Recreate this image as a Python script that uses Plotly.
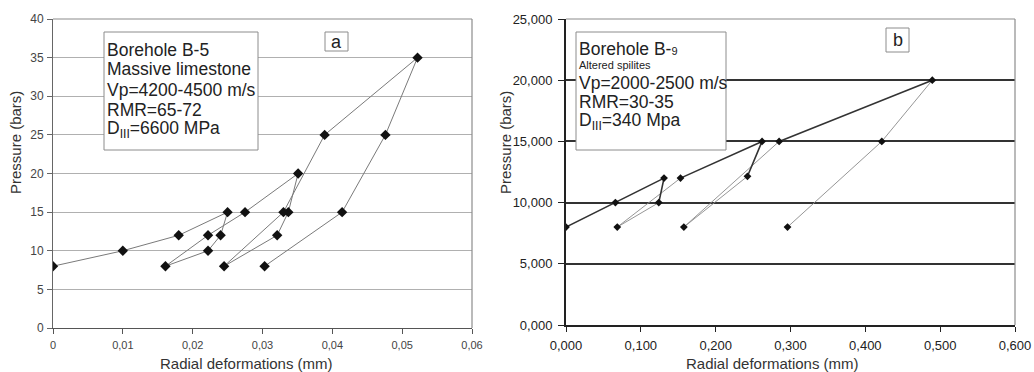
import plotly.graph_objects as go

W, H = 1034, 372

# ---- Chart a (Borehole B-5) ----
a_x = [0.0, 0.010, 0.018, 0.025, 0.0240, 0.0222, 0.0161, 0.0222, 0.0275, 0.0351,
       0.0337, 0.0321, 0.0245, 0.0330, 0.0389, 0.0522, 0.0476, 0.0414, 0.0303]
a_y = [8, 10, 12, 15, 12, 10, 8, 12, 15, 20, 15, 12, 8, 15, 25, 35, 25, 15, 8]
a_xticks = [0, 0.01, 0.02, 0.03, 0.04, 0.05, 0.06]
a_xticktext = ["0", "0,01", "0,02", "0,03", "0,04", "0,05", "0,06"]
a_yticks = [0, 5, 10, 15, 20, 25, 30, 35, 40]
a_yticktext = ["0", "5", "10", "15", "20", "25", "30", "35", "40"]

# ---- Chart b (Borehole B-9) ----
b_x = [0.0, 0.066, 0.131, 0.124, 0.0685, 0.153, 0.262, 0.2425, 0.1575, 0.2848,
       0.4895, 0.422, 0.296]
b_y = [8000, 10000, 12000, 10000, 8000, 12000, 15000, 12150, 8000, 15000,
       20000, 15000, 8000]
b_dark_segments = [(0, 3), (5, 7), (9, 10)]
b_thin_segments = [(3, 5), (7, 9), (10, 12)]
b_xticks = [0, 0.1, 0.2, 0.3, 0.4, 0.5, 0.6]
b_xticktext = ["0,000", "0,100", "0,200", "0,300", "0,400", "0,500", "0,600"]
b_yticks = [0, 5000, 10000, 15000, 20000, 25000]
b_yticktext = ["0,000", "5,000", "10,000", "15,000", "20,000", "25,000"]


def px(x):
    return x / W


def py(y):
    return 1 - y / H


FONT = "Liberation Sans"

fig = go.Figure()

# chart a trace
fig.add_trace(go.Scatter(
    x=a_x, y=a_y, mode="lines+markers", xaxis="x", yaxis="y",
    line=dict(color="#7a7a7a", width=1),
    marker=dict(symbol="diamond", size=8, color="#111111"),
    showlegend=False, hoverinfo="skip"))

# chart b traces
for (i, j) in b_thin_segments:
    fig.add_trace(go.Scatter(
        x=b_x[i:j + 1], y=b_y[i:j + 1], mode="lines", xaxis="x2", yaxis="y2",
        line=dict(color="#8a8a8a", width=0.9), showlegend=False, hoverinfo="skip"))
for (i, j) in b_dark_segments:
    fig.add_trace(go.Scatter(
        x=b_x[i:j + 1], y=b_y[i:j + 1], mode="lines", xaxis="x2", yaxis="y2",
        line=dict(color="#333333", width=1.6), showlegend=False, hoverinfo="skip"))
fig.add_trace(go.Scatter(
    x=b_x, y=b_y, mode="markers", xaxis="x2", yaxis="y2",
    marker=dict(symbol="diamond", size=6, color="#111111"),
    showlegend=False, hoverinfo="skip"))

# plot area pixel boxes
A_L, A_R, A_T, A_B = 53, 472, 19, 328
B_L, B_R, B_T, B_B = 566, 1015, 19, 325

fig.update_layout(
    template="none",
    width=W, height=H,
    margin=dict(l=0, r=0, t=0, b=0, pad=0),
    paper_bgcolor="white", plot_bgcolor="white",
    font=dict(family=FONT, color="#333333"),
    xaxis=dict(domain=[px(A_L), px(A_R)], range=[0, 0.06], anchor="y",
               automargin=False,
               tickvals=a_xticks, ticktext=a_xticktext,
               showgrid=False, zeroline=False,
               showline=True, linecolor="#555555", linewidth=1,
               ticks="outside", ticklen=5, tickcolor="#555555",
               ticklabelstandoff=2,
               tickfont=dict(family=FONT, size=11, color="#444444")),
    yaxis=dict(domain=[py(A_B), py(A_T)], range=[0, 40], anchor="x",
               automargin=False,
               tickvals=a_yticks, ticktext=a_yticktext,
               showgrid=True, gridcolor="#b0b0b0", gridwidth=1.3,
               zeroline=False,
               showline=True, linecolor="#666666", linewidth=1,
               ticks="outside", ticklen=5, tickcolor="#666666",
               ticklabelstandoff=1,
               tickfont=dict(family=FONT, size=12, color="#444444")),
    xaxis2=dict(domain=[px(B_L), px(B_R)], range=[0, 0.6], anchor="y2",
                automargin=False,
                tickvals=b_xticks, ticktext=b_xticktext,
                showgrid=False, zeroline=False,
                showline=True, linecolor="#222222", linewidth=1.5,
                ticks="outside", ticklen=5, tickcolor="#222222",
                ticklabelstandoff=3,
                tickfont=dict(family=FONT, size=13, color="#222222")),
    yaxis2=dict(domain=[py(B_B), py(B_T)], range=[0, 25000], anchor="x2",
                automargin=False,
                tickvals=b_yticks, ticktext=b_yticktext,
                showgrid=True, gridcolor="#333333", gridwidth=1.5,
                zeroline=False,
                showline=True, linecolor="#222222", linewidth=2,
                ticks="outside", ticklen=6, tickcolor="#222222",
                ticklabelstandoff=3,
                tickfont=dict(family=FONT, size=13, color="#222222")),
)

shapes = []
# plot-area borders (top/right)
for (l, r, t, b) in [(A_L, A_R, A_T, A_B), (B_L, B_R, B_T, B_B)]:
    shapes.append(dict(type="line", xref="paper", yref="paper",
                       x0=px(l), x1=px(r), y0=py(t), y1=py(t),
                       line=dict(color="#8c8c8c", width=1.2)))
    shapes.append(dict(type="line", xref="paper", yref="paper",
                       x0=px(r), x1=px(r), y0=py(t), y1=py(b),
                       line=dict(color="#8c8c8c", width=1.2)))
# text boxes
shapes.append(dict(type="rect", xref="paper", yref="paper",
                   x0=px(104), x1=px(258), y0=py(150), y1=py(32),
                   line=dict(color="#8c8c8c", width=1), fillcolor="white", layer="above"))
shapes.append(dict(type="rect", xref="paper", yref="paper",
                   x0=px(576), x1=px(726), y0=py(150), y1=py(32),
                   line=dict(color="#8c8c8c", width=1), fillcolor="white", layer="above"))
# label boxes a / b
shapes.append(dict(type="rect", xref="paper", yref="paper",
                   x0=px(325), x1=px(348), y0=py(51), y1=py(32),
                   line=dict(color="#8c8c8c", width=1), fillcolor="white", layer="above"))
shapes.append(dict(type="rect", xref="paper", yref="paper",
                   x0=px(886), x1=px(909), y0=py(52), y1=py(28),
                   line=dict(color="#8c8c8c", width=1), fillcolor="white", layer="above"))
fig.update_layout(shapes=shapes)

TXT = "#222222"
ann = []


def text(x, y, s, size, xanchor="left", angle=0, color=TXT):
    ann.append(dict(xref="paper", yref="paper", x=px(x), y=py(y), text=s,
                    showarrow=False, xanchor=xanchor, yanchor="middle",
                    textangle=angle, font=dict(family=FONT, size=size, color=color)))


# chart a box lines
a_lines = ["Borehole B-5", "Massive limestone", "Vp=4200-4500 m/s",
           "RMR=65-72", "D<sub>III</sub>=6600 MPa"]
for s, yy in zip(a_lines, [50, 69, 90, 110, 129]):
    text(105, yy, s, 17.5)

# chart b box lines
text(577, 49, "Borehole B-<span style='font-size:11px'>9</span>", 17.5)
text(577, 65, "Altered spilites", 11)
text(577, 83, "Vp=2000-2500 m/s", 17.5)
text(577, 102, "RMR=30-35", 17.5)
text(577, 122, "D<sub>III</sub>=340 Mpa", 17.5)

text(336.5, 41.5, "a", 18, xanchor="center")
text(897.5, 40, "b", 18, xanchor="center")

# axis titles
text(246, 363, "Radial deformations (mm)", 15, xanchor="center", color="#333333")
text(772, 363, "Radial deformations (mm)", 15, xanchor="center", color="#333333")
text(15, 143, "Pressure (bars)", 15, xanchor="center", angle=-90, color="#333333")
text(505, 143, "Pressure (bars)", 15, xanchor="center", angle=-90, color="#333333")

fig.update_layout(annotations=ann)

fig.write_html("out.html")
